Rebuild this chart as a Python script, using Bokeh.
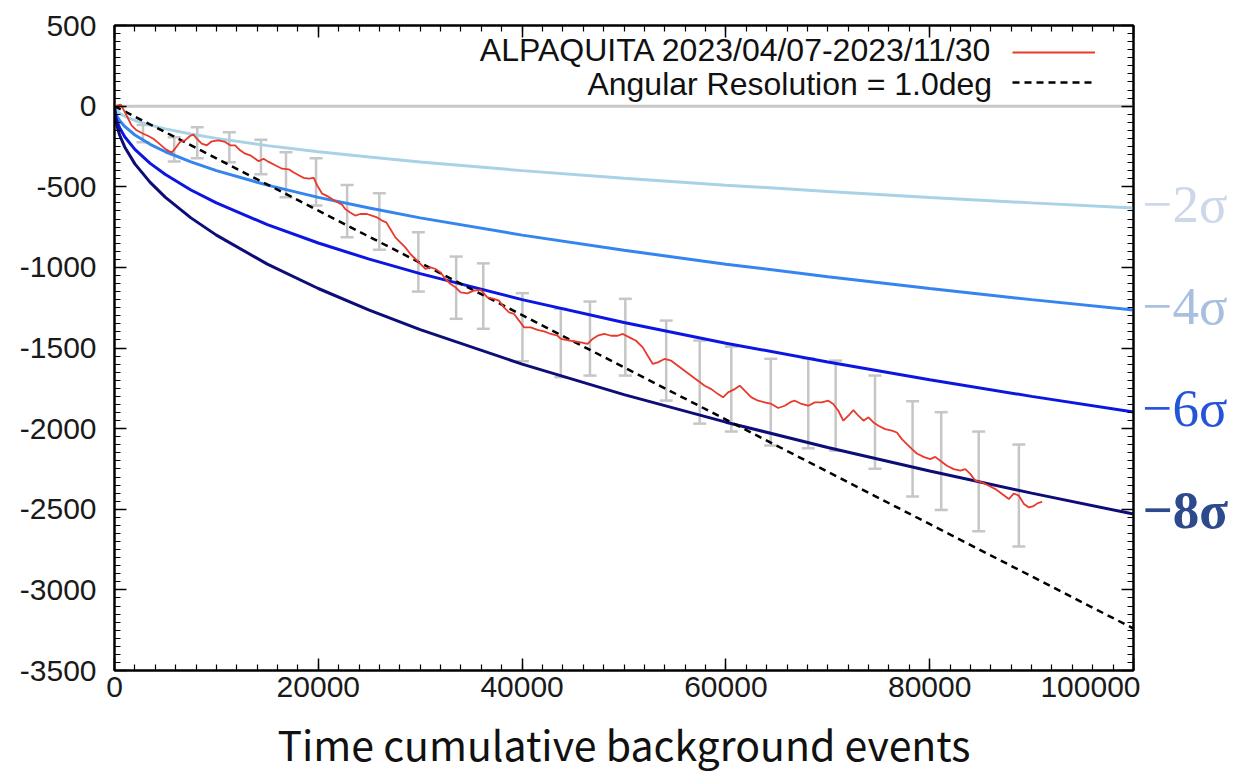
from bokeh.plotting import figure
from bokeh.layouts import row, column
from bokeh.models import (Range1d, LinearAxis, FixedTicker, Label, Legend, LegendItem,
                          ColumnDataSource, Whisker, TeeHead)
from bokeh.core.properties import value
from bokeh.embed import file_html
from bokeh.resources import INLINE

# ---------------- data ----------------
x_ticks = [0, 20000, 40000, 60000, 80000, 100000]
x_tick_labels = ["0", "20000", "40000", "60000", "80000", "100000"]
y_ticks = [-3500, -3000, -2500, -2000, -1500, -1000, -500, 0, 500]
y_tick_labels = ["-3500", "-3000", "-2500", "-2000", "-1500", "-1000", "-500", "0", "500"]

# significance curves
sig_x = [0, 50, 200, 500, 1000, 2000, 3500, 5000, 7500, 10000, 15000, 20000, 25000,
         30000, 40000, 50000, 60000, 70000, 80000, 90000, 100000]
sig2 = [0, -14, -28, -45, -63, -89, -118, -141, -173, -200, -245, -283, -316,
        -346, -400, -447, -490, -529, -566, -600, -632]
sig4 = [0, -28, -57, -89, -126, -179, -237, -283, -346, -400, -490, -566, -632,
        -693, -800, -894, -980, -1058, -1131, -1200, -1265]
sig6 = [0, -42, -85, -134, -190, -268, -355, -424, -520, -600, -735, -849, -949,
        -1039, -1200, -1342, -1470, -1587, -1697, -1800, -1897]
sig8 = [0, -57, -113, -179, -253, -358, -473, -566, -693, -800, -980, -1131, -1265,
        -1386, -1600, -1789, -1960, -2117, -2263, -2400, -2530]
sigma_labels = ["\u22122\u03c3", "\u22124\u03c3", "\u22126\u03c3", "\u22128\u03c3"]

# angular resolution expectation (dashed)
ang_x = [0, 100000]
ang_y = [0, -3240]

# zero reference line
zero_x = [0, 100000]
zero_y = [0, 0]

# ALPAQUITA cumulative curve
obs_x = [0, 620, 1180, 1670, 2170, 2820, 3320, 3810, 4300, 4950, 5610, 5940, 6430, 6920,
         7410, 7750, 8070, 8560, 9060, 9550, 10210, 10860, 11350, 11840, 12330, 12830,
         13320, 13810, 14140, 14630, 15130, 15780, 16440, 17100, 17590, 18080, 18570,
         19070, 19560, 19880, 20380, 21030, 21690, 22340, 22640, 23130, 23620, 24120,
         24770, 25260, 25760, 26250, 26670, 27070, 27560, 28050, 28540, 29040, 29530,
         30020, 30510, 31010, 31500, 31990, 32480, 32980, 33470, 33960, 34620, 35270,
         35930, 36590, 37240, 37730, 38220, 38720, 39210, 39700, 40190, 40850, 41510,
         42160, 42820, 43480, 43800, 44780, 45770, 46430, 46920, 47410, 48070, 48720,
         49380, 49880, 50530, 51180, 51840, 52330, 52830, 53320, 53970, 54630, 55290,
         55940, 56600, 57260, 57910, 58570, 59230, 59720, 60210, 60870, 61360, 61840,
         62500, 63160, 63810, 64470, 65130, 65780, 66440, 66770, 67420, 68080, 68730,
         69390, 70050, 70540, 71030, 71530, 72020, 72510, 73000, 73500, 73990, 74480,
         74970, 75630, 76290, 76780, 77270, 77760, 78260, 78740, 79400, 80050, 80540,
         81040, 81690, 82360, 83010, 83500, 84000, 84480, 85140, 85800, 86450, 87110,
         87770, 88260, 88750, 89250, 89740, 90200, 90600, 91040]
obs_y = [0, 9, -57, -119, -150, -171, -185, -202, -228, -264, -288, -264, -222, -212,
         -185, -177, -202, -233, -243, -218, -212, -222, -243, -243, -274, -295,
         -305, -326, -342, -326, -346, -367, -388, -392, -412, -429, -445,
         -450, -445, -491, -543, -563, -590, -612, -638, -659, -679, -669,
         -669, -679, -690, -710, -721, -762, -814, -845, -876, -917, -948,
         -979, -1010, -1000, -1010, -1031, -1072, -1103, -1124, -1155, -1161, -1144,
         -1140, -1186, -1196, -1206, -1248, -1279, -1289, -1330, -1372, -1372, -1388,
         -1397, -1413, -1424, -1444, -1455, -1465, -1475, -1444, -1424, -1413, -1424,
         -1424, -1413, -1434, -1455, -1496, -1548, -1599, -1589, -1568, -1579, -1610,
         -1641, -1672, -1703, -1734, -1755, -1786, -1806, -1775, -1755, -1734, -1765,
         -1806, -1827, -1837, -1847, -1872, -1858, -1832, -1827, -1847, -1858, -1837,
         -1837, -1827, -1847, -1889, -1951, -1920, -1885, -1920, -1951, -1930, -1962,
         -1982, -2003, -2013, -2024, -2065, -2096, -2127, -2154, -2175, -2189, -2175,
         -2199, -2230, -2251, -2261, -2251, -2282, -2323, -2333, -2354, -2375, -2406,
         -2437, -2402, -2416, -2468, -2489, -2480, -2462, -2455]

# error bars
err_x = [2800, 5860, 8120, 11270, 14370, 16830, 19780, 22830, 25990, 29820, 33530,
         36190, 40030, 43800, 46660, 50130, 54140, 57430, 60530, 64400, 68080, 70770,
         74630, 78320, 81130, 84810, 88750]
err_lo = [-224, -344, -324, -348, -423, -565, -617, -813, -890, -1150, -1319,
          -1381, -1582, -1681, -1671, -1671, -1826, -1969, -2018, -2105, -2122, -2136,
          -2249, -2421, -2504, -2636, -2731]
err_hi = [-117, -193, -131, -162, -208, -286, -324, -489, -541, -782, -933,
          -975, -1160, -1257, -1212, -1195, -1330, -1454, -1491, -1567, -1564, -1578,
          -1671, -1830, -1898, -2018, -2099]

legend_labels = ["ALPAQUITA 2023/04/07-2023/11/30", "Angular Resolution = 1.0deg"]
x_title = "Time cumulative background events"

# ---------------- layout constants ----------------
H_MAIN = 712
TOP = 25
BOTTOM = H_MAIN - 670
W_MAIN = 1140
W_SIDE = 93
H_TITLE = 60

p = figure(width=W_MAIN, height=H_MAIN, output_backend="svg", toolbar_location=None,
           x_range=Range1d(0, 100000), y_range=Range1d(-3500, 500),
           min_border_left=114, min_border_right=W_MAIN - 1133,
           min_border_top=TOP, min_border_bottom=BOTTOM,
           background_fill_color="white", border_fill_color="white")
p.grid.visible = False
p.outline_line_color = "black"
p.outline_line_width = 2

xt = FixedTicker(ticks=x_ticks, minor_ticks=list(range(0, 100001, 2000)))
yt = FixedTicker(ticks=y_ticks, minor_ticks=list(range(-3500, 501, 50)))

def style_axis(ax):
    ax.axis_line_color = "black"
    ax.axis_line_width = 2
    ax.major_tick_in = 12
    ax.major_tick_out = 0
    ax.minor_tick_in = 6
    ax.minor_tick_out = 0
    ax.major_tick_line_color = "black"
    ax.major_tick_line_width = 1.5
    ax.minor_tick_line_color = "black"
    ax.minor_tick_line_width = 1.2

p.xaxis.ticker = xt
p.yaxis.ticker = yt
p.xaxis.major_label_overrides = dict(zip(x_ticks, x_tick_labels))
p.yaxis.major_label_overrides = dict(zip(y_ticks, y_tick_labels))
for ax in (p.xaxis[0], p.yaxis[0]):
    style_axis(ax)
    ax.major_label_text_font = "Liberation Sans"
    ax.major_label_text_font_size = "30px"
    ax.major_label_text_color = "#1a1a1a"
p.xaxis.major_label_standoff = 6
p.yaxis.major_label_standoff = 18

top_ax = LinearAxis(ticker=xt, major_label_overrides={t: "" for t in x_ticks})
right_ax = LinearAxis(ticker=yt, major_label_overrides={t: "" for t in y_ticks})
for ax in (top_ax, right_ax):
    style_axis(ax)
    ax.major_label_standoff = 0
    ax.major_label_text_font_size = "8px"
p.add_layout(top_ax, "above")
p.add_layout(right_ax, "right")

# ---------------- glyphs ----------------
p.line(zero_x, zero_y, line_color="#c8c8c8", line_width=3)
sig_colors = ["#a9d2e6", "#3585ee", "#0b16e0", "#0d0d78"]
for ys, c in zip([sig2, sig4, sig6, sig8], sig_colors):
    p.line(sig_x, ys, line_color=c, line_width=3)

r_ang = p.line(ang_x, ang_y, line_color="black", line_width=2.5, line_dash="7 5")
r_obs = p.line(obs_x, obs_y, line_color="#e8392b", line_width=1.8)

src = ColumnDataSource(dict(x=err_x, lo=err_lo, hi=err_hi))
wh = Whisker(source=src, base="x", lower="lo", upper="hi", dimension="height",
             line_color="#c6c6c6", line_width=2.5,
             upper_head=TeeHead(size=13, line_color="#c6c6c6", line_width=2.5),
             lower_head=TeeHead(size=13, line_color="#c6c6c6", line_width=2.5))
p.add_layout(wh)

# legend: right-aligned texts with line samples to their right
leg_y = [345, 140]
for t_, yy in zip(legend_labels, leg_y):
    p.add_layout(Label(x=86130, y=yy, text=t_, text_align="right", text_baseline="middle",
                       text_font="Liberation Sans", text_font_size="32px",
                       text_color="#111111"))
leg = Legend(items=[LegendItem(label=" ", renderers=[r_obs]),
                    LegendItem(label=" ", renderers=[r_ang])],
             location=(898, 573), glyph_width=83, glyph_height=30, label_height=30,
             label_width=1, label_standoff=0, spacing=0, padding=0, margin=0,
             label_text_font_size="1px", background_fill_alpha=0,
             border_line_alpha=0)
p.add_layout(leg)

# ---------------- side panel with the sigma labels ----------------
s = figure(width=W_SIDE, height=H_MAIN, output_backend="svg", toolbar_location=None,
           x_range=Range1d(100000, 100000 + W_SIDE * 100000 / 1019), y_range=p.y_range,
           x_axis_type=None, y_axis_type=None,
           min_border_left=0, min_border_right=0,
           min_border_top=TOP, min_border_bottom=BOTTOM,
           background_fill_color="white", border_fill_color="white")
s.grid.visible = False
s.outline_line_color = None
lab_src = ColumnDataSource(dict(
    x=[sig_x[-1]] * 4,
    y=[sig2[-1], sig4[-1], sig6[-1], sig8[-1]],
    text=sigma_labels,
    color=["#ccd8ea", "#a9bfdf", "#2455d8", "#2c4a8c"],
    style=["normal", "normal", "normal", "bold"],
))
s.text(x="x", y="y", text="text", source=lab_src, text_color="color",
       text_font_style="style", text_font=value("Liberation Serif"),
       text_font_size="53px", text_align="left", text_baseline="middle",
       x_offset=2, y_offset=-4)

# ---------------- x-axis title strip ----------------
t = figure(width=W_MAIN, height=H_TITLE, output_backend="svg", toolbar_location=None,
           x_range=p.x_range, y_range=Range1d(0, H_TITLE),
           x_axis_type=None, y_axis_type=None,
           min_border_left=114, min_border_right=W_MAIN - 1133,
           min_border_top=0, min_border_bottom=0,
           background_fill_color="white", border_fill_color="white")
t.grid.visible = False
t.outline_line_color = None
t.add_layout(Label(x=50000, y=30, text=x_title, text_align="center",
                   text_baseline="middle", text_font="Noto Sans CJK JP",
                   text_font_size="41px", text_color="#111111"))

layout = column(row(p, s, spacing=0), t, spacing=0)
open("out.html", "w").write(file_html(layout, INLINE))
